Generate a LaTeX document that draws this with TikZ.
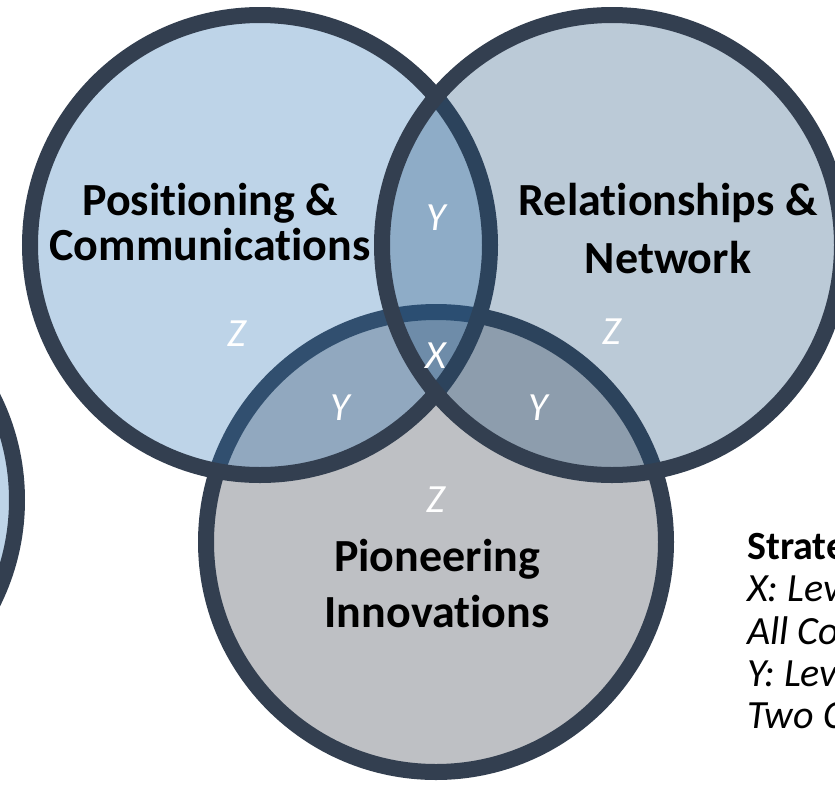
\documentclass[tikz,border=0pt]{standalone}
\usepackage{fontspec}
\setmainfont{Carlito}[Ligatures=CommonOff]
\definecolor{ringdark}{RGB}{51,63,80}
\definecolor{posblue}{RGB}{46,117,182}
\definecolor{relnavy}{RGB}{31,78,121}
\definecolor{piongray}{RGB}{190,192,196}
\tikzset{
  ring/.style={draw=ringdark, line width=16pt},
  areatitle/.style={align=center, inner sep=0pt, font=\fontsize{46}{45}\selectfont\bfseries},
  zonemark/.style={text=white, inner sep=0pt, font=\fontsize{40}{40}\selectfont\itshape},
}
\begin{document}
\begin{tikzpicture}[x=1pt,y=-1pt]
    \useasboundingbox (0,0) rectangle (835,785);
    \coordinate (C_pos) at (260,245);
    \coordinate (C_rel) at (612,245);
    \coordinate (C_pio) at (436,542);
    \coordinate (C_side) at (-213,500);
    % circles: gray one first, the two blue ones on top of it
    \draw[ring, fill=piongray] (C_pio) circle [radius=230pt];
    \draw[ring, fill=posblue, fill opacity=.31] (C_side) circle [radius=230pt];
    \draw[ring, fill=posblue, fill opacity=.31] (C_pos) circle [radius=230pt];
    \draw[ring, fill=relnavy, fill opacity=.30] (C_rel) circle [radius=230pt];
    % titles
    \node[areatitle] (T_pos) at (210,222) {Positioning \&\\Communications};
    \node[areatitle, font=\fontsize{46}{58}\selectfont\bfseries] (T_rel) at (668,229) {Relationships \&\\Network};
    \node[areatitle, font=\fontsize{46}{56}\selectfont\bfseries] (T_pio) at (437,584) {Pioneering\\Innovations};
    % zone marks
    \node[zonemark] (M_x) at (436,356) {X};
    \node[zonemark] (M_y1) at (436,218) {Y};
    \node[zonemark] (M_y2) at (340,408) {Y};
    \node[zonemark] (M_y3) at (538,408) {Y};
    \node[zonemark] (M_z1) at (237,334) {Z};
    \node[zonemark] (M_z2) at (612,332) {Z};
    \node[zonemark] (M_z3) at (436,500) {Z};
    % legend, cut by the right edge
    \node[anchor=north west, inner sep=0pt, align=left, font=\fontsize{40}{42.3}\selectfont] (L_key) at (747,533)
        {\textbf{Strate}\\\textit{X: Lev}\\\textit{All Co}\\\textit{Y: Lev}\\\textit{Two C}};
\end{tikzpicture}
\end{document}
